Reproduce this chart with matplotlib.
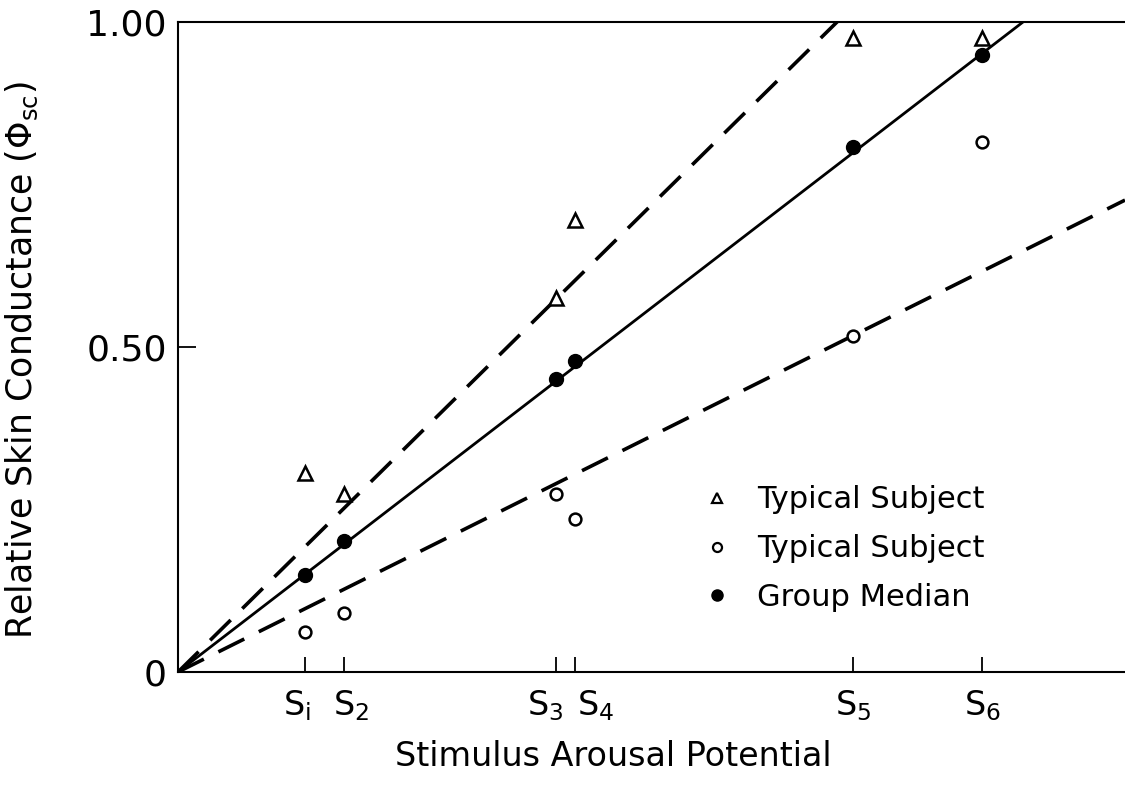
import matplotlib
matplotlib.use('Agg')
import matplotlib.pyplot as plt
import matplotlib.transforms as mtransforms
from matplotlib.lines import Line2D
import numpy as np

# stimulus positions along the arousal axis (arbitrary units)
stim_x = [1.27, 1.66, 3.78, 3.97, 6.75, 8.04]
stim_labels = [r'S$_{\mathrm{i}}$', r'S$_2$', r'S$_3$', r'S$_4$', r'S$_5$', r'S$_6$']

# relative skin conductance
subj_a = [0.306, 0.274, 0.575, 0.695, 0.975, 0.975]   # triangles
subj_b = [0.062, 0.091, 0.274, 0.235, 0.517, 0.815]   # open circles
group_median = [0.149, 0.201, 0.451, 0.478, 0.808, 0.949]

# slopes of the fitted lines through the origin
slope_a = 1 / 6.59
slope_b = 0.726 / 9.47
slope_med = 1 / 8.45

x_max = 9.47

plt.rcParams['mathtext.default'] = 'regular'
plt.rcParams['font.family'] = ['DejaVu Sans']

fig = plt.figure(figsize=(11.25, 8.01), dpi=100, facecolor='w')
ax = fig.add_axes([178 / 1125, 129 / 801, 947 / 1125, 650 / 801])

xl = np.array([0, x_max])
ax.plot(xl, slope_a * xl, color='k', lw=2.6, ls=(0, (8, 4.5)))
ax.plot(xl, slope_b * xl, color='k', lw=2.6, ls=(0, (8, 4.5)))
ax.plot(xl, slope_med * xl, color='k', lw=2.0)

ax.plot(stim_x, subj_a, ls='none', marker='^', ms=9.5, mfc='w', mec='k', mew=1.8)
ax.plot(stim_x, subj_b, ls='none', marker='o', ms=8.5, mfc='w', mec='k', mew=1.8)
ax.plot(stim_x, group_median, ls='none', marker='o', ms=10, mfc='k', mec='k')

ax.set_xlim(0, x_max)
ax.set_ylim(0, 1.0)

ax.set_xticks(stim_x)
ax.set_xticklabels(stim_labels, fontsize=24)
ax.set_yticks([0, 0.5, 1.0])
ax.set_yticklabels(['0', '0.50', '1.00'], fontsize=26)
ax.tick_params(axis='x', direction='in', length=11, width=1.3, pad=12)
ax.tick_params(axis='y', direction='in', length=13, width=1.3, pad=8)

# crowded labels: nudge them apart like the original (offsets in points)
nudge = [-6, 5, -8, 15, 0, 0]
for lab, dx in zip(ax.get_xticklabels(), nudge):
    lab.set_transform(lab.get_transform() + mtransforms.ScaledTranslation(dx / 72, 0, fig.dpi_scale_trans))

ax.spines['right'].set_visible(False)
for s in ['left', 'bottom', 'top']:
    ax.spines[s].set_linewidth(1.5)

ax.set_xlabel('Stimulus Arousal Potential', fontsize=24)
ax.xaxis.set_label_coords(0.46, -0.105)
ax.set_ylabel(r'Relative Skin Conductance ($\Phi_{sc}$)', fontsize=25)
ax.yaxis.set_label_coords(-0.146, 0.48)

handles = [
    Line2D([], [], ls='none', marker='^', ms=7, mfc='w', mec='k', mew=1.6),
    Line2D([], [], ls='none', marker='o', ms=6.5, mfc='w', mec='k', mew=1.6),
    Line2D([], [], ls='none', marker='o', ms=8, mfc='k', mec='k'),
]
ax.legend(handles, ['Typical Subject', 'Typical Subject', 'Group Median'],
          loc='upper left', bbox_to_anchor=(0.553, 0.287), frameon=False,
          fontsize=22, borderpad=0, borderaxespad=0, handlelength=1.0,
          handletextpad=0.8, labelspacing=0.65)

fig.savefig('out.png', dpi=100)
